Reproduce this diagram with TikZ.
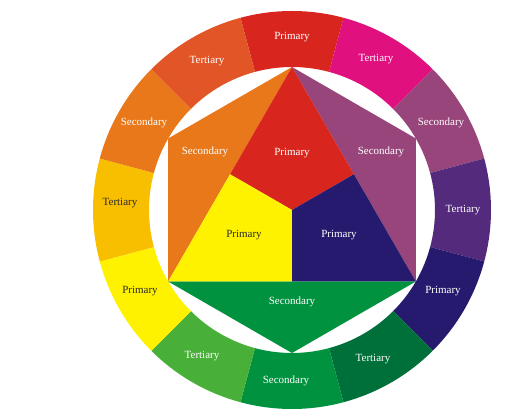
\documentclass[tikz,border=0pt]{standalone}
\usepackage{fontspec}
\setmainfont{Liberation Serif}
\usetikzlibrary{calc}
\definecolor{cRed}{HTML}{D8261E}
\definecolor{cMagenta}{HTML}{E0117F}
\definecolor{cPurple}{HTML}{97457A}
\definecolor{cViolet}{HTML}{532A7C}
\definecolor{cBlue}{HTML}{261A6E}
\definecolor{cDkGreen}{HTML}{00703A}
\definecolor{cGreen}{HTML}{00923F}
\definecolor{cLtGreen}{HTML}{48AF38}
\definecolor{cYellow}{HTML}{FFF200}
\definecolor{cAmber}{HTML}{F8BF00}
\definecolor{cOrange}{HTML}{E8781A}
\definecolor{cVermil}{HTML}{E25526}
\definecolor{cDarkText}{HTML}{2A2A2A}
\tikzset{
  lbl/.style={font=\fontsize{11}{13}\selectfont, text=white, inner sep=0pt},
  dlbl/.style={lbl, text=cDarkText},
}
\newcommand{\ringseg}[2]{% angle, color
  \fill[#2] ($(C)+(#1-15:199pt)$) arc[start angle=#1-15, end angle=#1+15, radius=199pt]
    -- ($(C)+(#1+15:143pt)$) arc[start angle=#1+15, end angle=#1-15, radius=143pt] -- cycle;
}
\begin{document}
\begin{tikzpicture}[x=1pt,y=1pt]
\useasboundingbox (0,0) rectangle (528,418);
\fill[white] (0,0) rectangle (528,418);
\coordinate (C) at (292,208);
% ring
\ringseg{90}{cRed}
\ringseg{60}{cMagenta}
\ringseg{30}{cPurple}
\ringseg{0}{cViolet}
\ringseg{-30}{cBlue}
\ringseg{-60}{cDkGreen}
\ringseg{-90}{cGreen}
\ringseg{-120}{cLtGreen}
\ringseg{-150}{cYellow}
\ringseg{180}{cAmber}
\ringseg{150}{cOrange}
\ringseg{120}{cVermil}
% hexagon vertices
\foreach \a in {90,30,-30,-90,-150,150} {\coordinate (H\a) at ($(C)+(\a:143pt)$);}
\foreach \a in {150,-90,30} {\coordinate (M\a) at ($(C)+(\a:71.5pt)$);}
\fill[cOrange] (H90) -- (H150) -- (H-150) -- cycle;
\fill[cPurple] (H90) -- (H30) -- (H-30) -- cycle;
\fill[cGreen] (H-150) -- (H-90) -- (H-30) -- cycle;
\fill[cRed] (H90) -- (M30) -- (C) -- (M150) -- cycle;
\fill[cYellow] (H-150) -- (M150) -- (C) -- (M-90) -- cycle;
\fill[cBlue] (H-30) -- (M-90) -- (C) -- (M30) -- cycle;
% ring labels
\node[lbl] (r90) at (292,381) {Primary};
\node[lbl] (r60) at (376,359) {Tertiary};
\node[lbl] (r30) at (441,295) {Secondary};
\node[lbl] (r0) at (463,208) {Tertiary};
\node[lbl] (rm30) at (443,127) {Primary};
\node[lbl] (rm60) at (373,59) {Tertiary};
\node[lbl] (rm90) at (286,37) {Secondary};
\node[lbl] (rm120) at (202,62) {Tertiary};
\node[dlbl] (rm150) at (140,127) {Primary};
\node[dlbl] (r180) at (120,215) {Tertiary};
\node[lbl] (r150) at (144,295) {Secondary};
\node[lbl] (r120) at (207,357) {Tertiary};
% inner labels
\node[lbl] (pRed) at (292,265) {Primary};
\node[dlbl] (pYel) at (244,183) {Primary};
\node[lbl] (pBlue) at (339,183) {Primary};
\node[lbl] (sOr) at (205,266) {Secondary};
\node[lbl] (sPu) at (381,266) {Secondary};
\node[lbl] (sGr) at (292,116) {Secondary};
\end{tikzpicture}
\end{document}
